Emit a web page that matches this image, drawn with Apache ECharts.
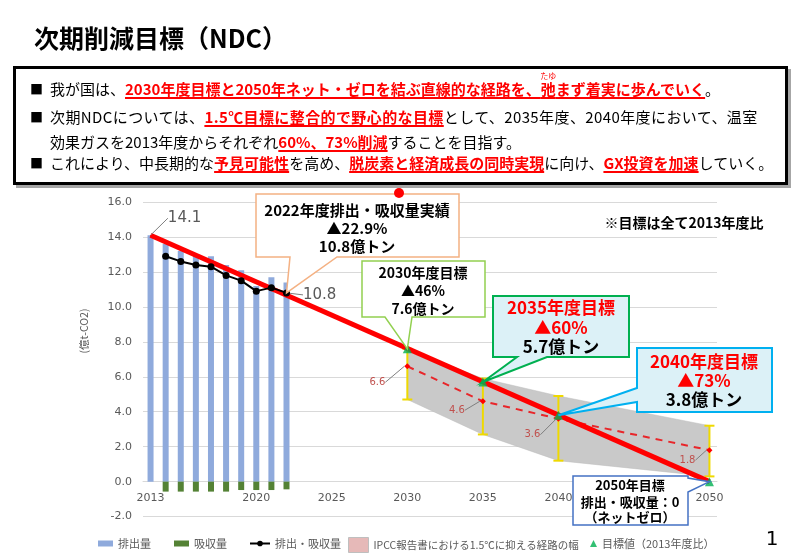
<!DOCTYPE html>
<html lang="ja">
<head>
  <meta charset="UTF-8">
  <script src="https://cdn.jsdelivr.net/npm/echarts@6/dist/echarts.min.js"></script>
  <title>次期削減目標（NDC）</title>
  <style>
    html, body { margin: 0; padding: 0; background: #fff; }
    body { width: 800px; height: 557px; position: relative; overflow: hidden;
           font-family: "Noto Sans CJK JP", sans-serif; }
    #chart { position: absolute; left: 0; top: 0; width: 800px; height: 557px; }
    .title { position: absolute; left: 34px; top: 22px; font-size: 25px; font-weight: bold;
             line-height: 30px; color: #000; z-index: 2; }
    .box { position: absolute; left: 13px; top: 66px; width: 775px; height: 119px;
           box-sizing: border-box; border: 3px solid #000; box-shadow: 3px 3px 0 #a6a6a6;
           background: #fff; z-index: 1; }
    .ln { position: absolute; left: 50px; font-size: 15px; line-height: 20px; white-space: nowrap;
          color: #000; z-index: 2; }
    .bl { position: absolute; left: 30px; font-size: 13px; line-height: 20px; z-index: 2; }
    .r { color: #ff0000; font-weight: bold; text-decoration: underline;
         text-decoration-thickness: 2px; text-underline-offset: 2px; }
    .rb { position: relative; }
    .rt { position: absolute; left: 50%; top: -6px; transform: translateX(-50%);
          font-size: 8px; line-height: 8px; font-weight: normal; white-space: nowrap; }
  </style>
</head>
<body>
  <div id="chart"></div>
  <div class="title">次期削減目標（NDC）</div>
  <div class="box"></div>
  <div class="bl" style="top:79px">■</div>
  <div class="ln" style="top:79px">我が国は、<span class="r">2030年度目標と2050年ネット・ゼロを結ぶ直線的な経路を、<span class="rb">弛<span class="rt">たゆ</span></span>まず着実に歩んでいく</span>。</div>
  <div class="bl" style="top:107px">■</div>
  <div class="ln" style="top:107px; letter-spacing:0.4px">次期NDCについては、<span class="r">1.5℃目標に整合的で野心的な目標</span>として、2035年度、2040年度において、温室</div>
  <div class="ln" style="top:132px">効果ガスを2013年度からそれぞれ<span class="r">60%、73%削減</span>することを目指す。</div>
  <div class="bl" style="top:153px">■</div>
  <div class="ln" style="top:153px">これにより、中長期的な<span class="r">予見可能性</span>を高め、<span class="r">脱炭素と経済成長の同時実現</span>に向け、<span class="r">GX投資を加速</span>していく。</div>

  <script>
    // 年度（カテゴリ）
    const years = ['2013', '2014', '2015', '2016', '2017', '2018', '2019', '2020', '2021', '2022',
      '2023', '2024', '2025', '2026', '2027', '2028', '2029', '2030', '2031', '2032',
      '2033', '2034', '2035', '2036', '2037', '2038', '2039', '2040', '2041', '2042',
      '2043', '2044', '2045', '2046', '2047', '2048', '2049', '2050'];
    const xLabelYears = ['2013', '2020', '2025', '2030', '2035', '2040', '2050'];

    // 実績（億t-CO2）
    const histYears = ['2013', '2014', '2015', '2016', '2017', '2018', '2019', '2020', '2021', '2022'];
    const emissions = [14.1, 13.6, 13.2, 13.0, 12.9, 12.4, 12.1, 11.2, 11.7, 11.4];
    const removals = [null, -0.57, -0.57, -0.57, -0.57, -0.57, -0.48, -0.48, -0.48, -0.44];
    const netEmissions = [null, 12.9, 12.6, 12.4, 12.3, 11.8, 11.5, 10.9, 11.1, 10.8];

    // 直線的な経路
    const pathYears = ['2013', '2050'];
    const pathValues = [14.1, 0];

    // 目標値
    const targetYears = ['2030', '2035', '2040', '2050'];
    const targetValues = [7.6, 5.7, 3.8, 0];

    // IPCC 1.5℃経路
    const ipccMedian = [6.6, 4.6, 3.6, 1.8];
    const ipccUpper = [7.6, 5.9, 4.9, 3.2];
    const ipccLower = [4.7, 2.7, 1.2, 0.3];

    const JP = '"Noto Sans CJK JP", sans-serif';
    const NUM = '"DejaVu Sans", sans-serif';

    function place(ys, vals) {
      const arr = years.map(() => null);
      ys.forEach((y, i) => { arr[years.indexOf(y)] = vals[i]; });
      return arr;
    }

    const chart = echarts.init(document.getElementById('chart'), null, { renderer: 'canvas' });

    const medianOffsets = { '2030': [-14, 16], '2035': [-10, 9], '2040': [-10, 16], '2050': [-6, 10] };
    const legendText = { color: '#595959', fontSize: 11, fontFamily: JP };

    const option = {
      animation: false,
      grid: { left: 143, right: 83, top: 202, bottom: 40.4 },
      xAxis: {
        type: 'category',
        data: years,
        boundaryGap: true,
        offset: -35,  // 軸ラベルを0の線の下に
        axisLine: { onZero: false, lineStyle: { color: '#d9d9d9', width: 1 } },
        axisTick: { show: false },
        axisLabel: {
          interval: (i, v) => xLabelYears.includes(v),
          color: '#595959', fontSize: 11, fontFamily: NUM, margin: 11
        }
      },
      yAxis: {
        type: 'value', min: -2, max: 16, interval: 2,
        axisLine: { show: false }, axisTick: { show: false },
        axisLabel: { formatter: v => v.toFixed(1), color: '#595959', fontSize: 11, fontFamily: NUM, margin: 11 },
        splitLine: { lineStyle: { color: '#d9d9d9', width: 1 } }
      },
      legend: [
        { data: [{ name: '排出量', icon: 'rect' }], left: 93, top: 533, itemWidth: 15, itemHeight: 6, textStyle: legendText },
        { data: [{ name: '吸収量', icon: 'rect' }], left: 169, top: 533, itemWidth: 15, itemHeight: 6, textStyle: legendText },
        { data: ['排出・吸収量'], left: 244, top: 533, itemWidth: 20, itemHeight: 7, textStyle: legendText },
        { data: [{ name: 'IPCC報告書における1.5℃に抑える経路の幅', icon: 'rect',
            itemStyle: { color: '#e6b9b8', borderColor: '#bfbfbf', borderWidth: 1 } }],
          left: 343, top: 532, itemWidth: 20, itemHeight: 15,
          textStyle: { color: '#595959', fontSize: 10.5, fontFamily: JP } },
        { data: [{ name: '目標値（2013年度比）', icon: 'triangle' }], left: 585, top: 533, itemWidth: 7, itemHeight: 7, textStyle: legendText }
      ],
      series: [
        {
          name: 'IPCC報告書における1.5℃に抑える経路の幅',
          type: 'custom',
          z: 1,
          data: [0],
          renderItem: (params, api) => {
            const up = targetYears.map((y, i) => api.coord([years.indexOf(y), ipccUpper[i]]));
            const lo = targetYears.map((y, i) => api.coord([years.indexOf(y), ipccLower[i]])).reverse();
            return { type: 'polygon', shape: { points: up.concat(lo) }, style: { fill: '#c9c9c9', stroke: '#bdbdbd', lineWidth: 0.5 } };
          },
          itemStyle: { color: '#c9c9c9' }
        },
        {
          name: 'errbar',
          type: 'custom',
          z: 3,
          data: targetYears.map((y, i) => [years.indexOf(y), ipccLower[i], ipccUpper[i]]),
          renderItem: (params, api) => {
            const lo = api.coord([api.value(0), api.value(1)]);
            const hi = api.coord([api.value(0), api.value(2)]);
            const st = { stroke: '#efd900', lineWidth: 2 };
            return { type: 'group', children: [
              { type: 'line', shape: { x1: lo[0], y1: lo[1], x2: hi[0], y2: hi[1] }, style: st },
              { type: 'line', shape: { x1: lo[0] - 5, y1: lo[1], x2: lo[0] + 5, y2: lo[1] }, style: st },
              { type: 'line', shape: { x1: hi[0] - 5, y1: hi[1], x2: hi[0] + 5, y2: hi[1] }, style: st }
            ] };
          }
        },
        {
          name: '排出量', type: 'bar', stack: 'a', barWidth: 6, z: 2,
          itemStyle: { color: '#8faadc' },
          data: place(histYears, emissions)
        },
        {
          name: '吸収量', type: 'bar', stack: 'a', barWidth: 6, z: 2,
          itemStyle: { color: '#548235' },
          data: place(histYears, removals)
        },
        {
          name: 'IPCC中央値', type: 'line', z: 4,
          data: place(targetYears, ipccMedian),
          connectNulls: true,
          symbol: 'diamond', symbolSize: 6,
          itemStyle: { color: '#ff0000' },
          lineStyle: { color: '#e8262a', width: 2, type: [7, 6] },
          label: { show: true, position: 'left', color: '#c0504d', fontSize: 10, fontFamily: NUM,
                   formatter: p => p.value.toFixed(1) },
          labelLayout: p => { const o = medianOffsets[years[p.dataIndex]]; return { dx: o[0], dy: o[1] }; },
          labelLine: { show: true, lineStyle: { color: '#7f7f7f', width: 1 } }
        },
        {
          name: '経路', type: 'line', z: 5,
          data: place(pathYears, pathValues).map((v, i) => i === 0 ? { value: v, label: { show: true } } : v),
          connectNulls: true,
          symbol: 'circle', symbolSize: 1,
          itemStyle: { color: '#ff0000' },
          lineStyle: { color: '#ff0000', width: 5 },
          label: { show: false, position: 'top', color: '#595959', fontSize: 15, fontFamily: NUM },
          labelLayout: { dx: 34, dy: -4 },
          labelLine: { show: true, lineStyle: { color: '#7f7f7f', width: 1 } }
        },
        {
          name: '排出・吸収量', type: 'line', z: 6,
          data: place(histYears, netEmissions).map((v, i) => years[i] === '2022' ? { value: v, label: { show: true } } : v),
          symbol: 'circle', symbolSize: 7,
          itemStyle: { color: '#000' },
          lineStyle: { color: '#000', width: 2 },
          label: { show: false, position: 'right', color: '#595959', fontSize: 15, fontFamily: NUM },
          labelLayout: { dx: 8, dy: 2 },
          labelLine: { show: true, lineStyle: { color: '#7f7f7f', width: 1 } }
        },
        {
          name: '目標値（2013年度比）', type: 'scatter', z: 7,
          symbol: 'triangle', symbolSize: 9,
          itemStyle: { color: '#00b050' },
          data: targetYears.map((y, i) => [y, targetValues[i]])
        }
      ]
    };

    chart.setOption(option);

    // 吹き出し
    const px = (y, v) => chart.convertToPixel({ xAxisIndex: 0, yAxisIndex: 0 }, [y, v]);

    function callout(b, side, base, tip, stroke, fill, lw) {
      let pts;
      if (side === 'bottom') {
        pts = [[b[0], b[1]], [b[2], b[1]], [b[2], b[3]], [base[1], b[3]], tip, [base[0], b[3]], [b[0], b[3]]];
      } else if (side === 'left') {
        pts = [[b[0], b[1]], [b[2], b[1]], [b[2], b[3]], [b[0], b[3]], [b[0], base[1]], tip, [b[0], base[0]]];
      } else {
        pts = [[b[0], b[1]], [b[2], b[1]], [b[2], base[0]], tip, [b[2], base[1]], [b[2], b[3]], [b[0], b[3]]];
      }
      return { type: 'polygon', z: 100, shape: { points: pts }, style: { fill: fill, stroke: stroke, lineWidth: lw } };
    }

    function lines(cx, ys, texts, size, colors) {
      return texts.map((t, i) => ({
        type: 'text', z: 101,
        style: { text: t, x: cx, y: ys[i], align: 'center', verticalAlign: 'middle',
                 fontSize: size, fontWeight: 'bold', fontFamily: JP, fill: colors[i] }
      }));
    }

    const netLast = netEmissions[netEmissions.length - 1];
    const graphics = [].concat(
      [callout([256, 194, 459, 257], 'bottom', [290, 337], px('2022', netLast), '#f4b183', '#fff', 1.5)],
      lines(357, [210, 228, 246], ['2022年度排出・吸収量実績', '▲22.9%', '10.8億トン'], 15, ['#000', '#000', '#000']),
      [{ type: 'circle', z: 102, shape: { cx: 399, cy: 193, r: 5 }, style: { fill: '#ff0000' } }],

      [callout([362, 261, 485, 317], 'bottom', [385, 412], px('2030', targetValues[0]), '#92d050', '#fff', 1.5)],
      lines(423, [273, 291, 309], ['2030年度目標', '▲46%', '7.6億トン'], 14, ['#000', '#000', '#000']),

      [callout([493, 296, 629, 357], 'bottom', [517, 547], px('2035', targetValues[1]), '#00b050', '#dcf1f7', 2)],
      lines(561, [308, 328, 347], ['2035年度目標', '▲60%', '5.7億トン'], 17, ['#ff0000', '#ff0000', '#000']),

      [callout([637, 348, 772, 412], 'left', [388, 402], px('2040', targetValues[2]), '#00b0f0', '#dcf1f7', 2)],
      lines(704, [362, 381, 400], ['2040年度目標', '▲73%', '3.8億トン'], 17, ['#ff0000', '#ff0000', '#000']),

      [callout([573, 476, 688, 525], 'right', [478, 492], px('2050', targetValues[3]), '#4472c4', '#fff', 1.5)],
      lines(630, [485, 502, 517], ['2050年目標', '排出・吸収量：0', '（ネットゼロ）'], 13, ['#000', '#000', '#000']),

      [{ type: 'text', z: 101, style: { text: '※目標は全て2013年度比', x: 684, y: 223, align: 'center', verticalAlign: 'middle',
          fontSize: 14, fontWeight: 'bold', fontFamily: JP, fill: '#000' } },
       { type: 'text', z: 101, rotation: Math.PI / 2, x: 84, y: 331,
         style: { text: '(億t-CO2)', align: 'center', verticalAlign: 'middle', fontSize: 10.5, fontFamily: JP, fill: '#595959' } },
       { type: 'text', z: 101, style: { text: '1', x: 772, y: 540, align: 'center', verticalAlign: 'middle',
          fontSize: 20, fontFamily: NUM, fill: '#000' } }]
    );

    chart.setOption({ graphic: graphics });
  </script>
</body>
</html>
